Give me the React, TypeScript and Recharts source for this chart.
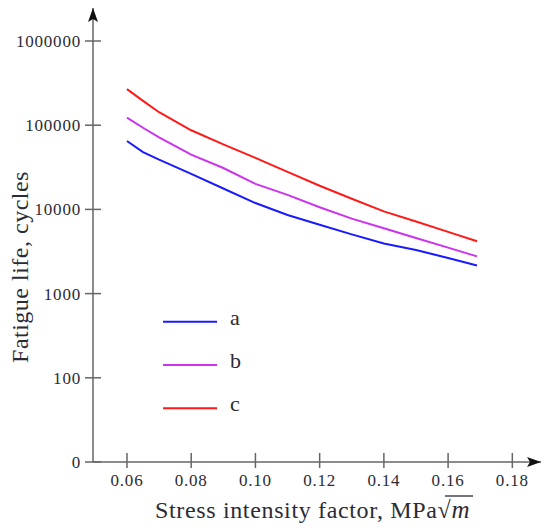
import React from 'react';
import { LineChart, Line, XAxis, YAxis, Legend } from 'recharts';

const stress = [0.06, 0.065, 0.07, 0.08, 0.09, 0.1, 0.11, 0.12, 0.13, 0.14, 0.15, 0.16, 0.169];
const lifeA = [64900, 48000, 39000, 26400, 17700, 11900, 8570, 6580, 5050, 3940, 3290, 2650, 2160];
const lifeB = [123300, 93300, 71800, 44800, 31000, 20100, 14900, 10600, 7780, 5970, 4580, 3520, 2770];
const lifeC = [267900, 194500, 142600, 87100, 59300, 40900, 27900, 19100, 13400, 9480, 7180, 5410, 4180];

const xTicks = [0.06, 0.08, 0.1, 0.12, 0.14, 0.16, 0.18];
const yTicks = [10, 100, 1000, 10000, 100000, 1000000];
const yTickLabels = ['0', '100', '1000', '10000', '100000', '1000000'];

const seriesKeys = ['a', 'b', 'c'];
const seriesColors = ['#1a1aff', '#cc33ee', '#ff1a1a'];

const data = stress.map((x, i) => ({ x, a: lifeA[i], b: lifeB[i], c: lifeC[i] }));

const FONT = '"Liberation Serif", "Times New Roman", serif';
const AXIS = '#666666';
const TEXT = '#2b2b35';

const YTick = (props: any) => {
  const { x, y, payload } = props;
  const idx = yTicks.indexOf(payload.value);
  return (
    <g>
      <line x1={x - 8} x2={x + 8} y1={y} y2={y} stroke={AXIS} strokeWidth={1.5} />
      <text x={x - 12} y={y} dy={6} textAnchor="end" fontSize={17} letterSpacing={0.8} style={{ fontFamily: FONT }} fill={TEXT}>
        {idx >= 0 ? yTickLabels[idx] : String(payload.value)}
      </text>
    </g>
  );
};

const XTick = (props: any) => {
  const { x, y, payload } = props;
  return (
    <g>
      <line x1={x} x2={x} y1={y - 9} y2={y + 6} stroke={AXIS} strokeWidth={1.5} />
      <text x={x} y={y + 24} textAnchor="middle" fontSize={17} letterSpacing={0.8} style={{ fontFamily: FONT }} fill={TEXT}>
        {payload.value.toFixed(2)}
      </text>
    </g>
  );
};

const XTitle = (props: any) => {
  const vb = props.viewBox || { x: 93, y: 462 };
  const x0 = vb.x + 62;
  const by = vb.y + 56;
  return (
    <g>
      <text x={x0} y={by} fontSize={24} letterSpacing={0.65} style={{ fontFamily: FONT }} fill={TEXT}>
        Stress intensity factor, MPa
        <tspan fontSize={24}>√</tspan>
        <tspan fontStyle="italic" fontSize={25}>m</tspan>
      </text>
      <line x1={x0 + 290} x2={x0 + 318} y1={by - 22} y2={by - 22} stroke={TEXT} strokeWidth={1.3} />
    </g>
  );
};

const YTitle = () => (
  <text
    x={28}
    y={267}
    transform="rotate(-90 28 267)"
    textAnchor="middle"
    fontSize={24}
    letterSpacing={0.5}
    style={{ fontFamily: FONT }}
    fill={TEXT}
  >
    Fatigue life, cycles
  </text>
);

const LegendBox = () => (
  <svg width={110} height={130} style={{ display: 'block', overflow: 'visible' }}>
    {seriesKeys.map((k, i) => {
      const ly = 21.7 + i * 43.3;
      return (
        <g key={k}>
          <line x1={3} x2={57} y1={ly} y2={ly} stroke={seriesColors[i]} strokeWidth={2} />
          <text x={70} y={ly + 3} fontSize={22} style={{ fontFamily: FONT }} fill={TEXT}>
            {k}
          </text>
        </g>
      );
    })}
  </svg>
);

export default function App() {
  return (
    <div style={{ position: 'absolute', left: 0, top: 0, width: 550, height: 531, background: '#fff' }}>
      <svg width={0} height={0} style={{ position: 'absolute' }}>
        <defs>
          <marker id="arrowRight" viewBox="0 0 14 10" refX={14} refY={5} markerWidth={14} markerHeight={10} markerUnits="userSpaceOnUse" orient="0">
            <path d="M0,0 L14,5 L0,10 L3,5 Z" fill="#111" />
          </marker>
          <marker id="arrowUp" viewBox="0 0 14 10" refX={14} refY={5} markerWidth={14} markerHeight={10} markerUnits="userSpaceOnUse" orient="270">
            <path d="M0,0 L14,5 L0,10 L3,5 Z" fill="#111" />
          </marker>
        </defs>
      </svg>
      <LineChart width={550} height={531} data={data} margin={{ top: 8, right: 9, bottom: 0, left: 0 }}>
        <XAxis
          dataKey="x"
          type="number"
          domain={[0.04942, 0.18893]}
          allowDataOverflow
          ticks={xTicks}
          tick={<XTick />}
          tickLine={false}
          tickSize={0}
          tickMargin={0}
          height={69}
          axisLine={{ stroke: AXIS, strokeWidth: 1.5, markerEnd: 'url(#arrowRight)' } as any}
          label={<XTitle />}
          interval={0}
        />
        <YAxis
          type="number"
          scale="log"
          domain={[10, 2466000]}
          allowDataOverflow
          ticks={yTicks}
          tick={<YTick />}
          tickLine={false}
          tickSize={0}
          tickMargin={0}
          width={93}
          axisLine={{ stroke: AXIS, strokeWidth: 1.5, markerStart: 'url(#arrowUp)' } as any}
          label={<YTitle />}
          interval={0}
        />
        <Legend
          layout="horizontal"
          verticalAlign="middle"
          align="center"
          content={<LegendBox />}
          wrapperStyle={{ position: 'absolute', left: 160, top: 300, width: 110, height: 130 }}
        />
        {seriesKeys.map((k, i) => (
          <Line
            key={k}
            type="linear"
            dataKey={k}
            stroke={seriesColors[i]}
            strokeWidth={2}
            dot={false}
            isAnimationActive={false}
          />
        ))}
      </LineChart>
    </div>
  );
}
